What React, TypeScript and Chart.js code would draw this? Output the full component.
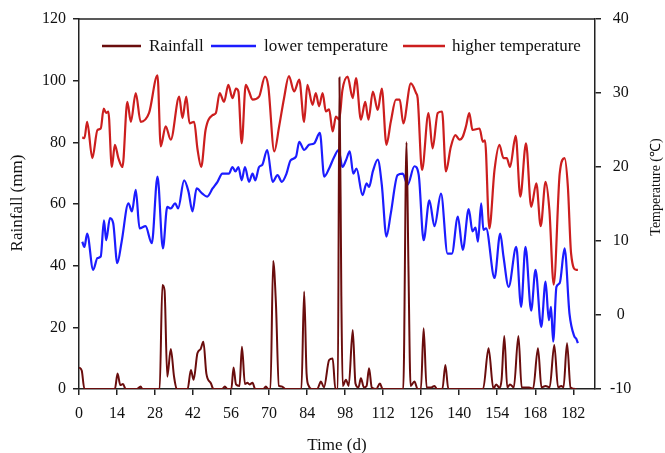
import React, { useEffect, useRef } from "react";
import { Chart, registerables } from "chart.js";

Chart.register(...registerables);

// ---- Data ----
const rainDays = [0, 1, 2, 13.2, 14.2, 15.2, 16.2, 17.2, 21.3, 22.7, 23.3, 29.7, 30.7, 31.5, 32.5, 33.8, 35, 36, 40, 41.2, 42.2, 43.6, 44.8, 45.8, 46.9, 48.6, 49.5, 52.7, 53.7, 54.7, 56.1, 56.9, 57.8, 59.1, 60, 61.1, 62, 62.8, 63.9, 64.9, 67.9, 68.8, 69.7, 70.5, 71.5, 72.5, 73.6, 74.7, 76, 81.9, 82.9, 83.8, 84.6, 85.6, 87.7, 89.1, 90.2, 92.1, 93.4, 94.4, 95.3, 95.9, 96.6, 97.1, 98.3, 99.3, 100.8, 101.8, 102.9, 103.8, 104.9, 105.9, 106.8, 107.8, 109.5, 110.8, 111.8, 119.4, 120.6, 121.3, 122.1, 123.5, 124.7, 125.9, 126.9, 128, 129.7, 130.9, 131.8, 133.8, 134.9, 136, 148.8, 150.8, 152.6, 153.6, 154.7, 155.6, 156.6, 157.7, 158.7, 160.1, 161.8, 163, 164.2, 165.7, 167.2, 169, 170.3, 171.8, 173.3, 175, 176.4, 177.6, 178.4, 179.7, 181, 183.1];
const rainValues = [7, 6, 0, 0, 5, 1.3, 1.6, 0, 0, 0.8, 0, 0, 33.7, 32, 4, 13, 4, 0, 0, 6.2, 3, 11.6, 13, 15.3, 5, 1.8, 0, 0, 0.8, 0, 0, 7, 1.5, 1, 13.7, 1.6, 2, 1.5, 2, 0, 0, 0.8, 0, 0, 41.5, 28, 1, 0.8, 0, 0, 31.6, 5, 1, 0, 0, 2.4, 0.5, 9.4, 9.9, 0, 0, 101, 30, 1, 3, 1, 19.1, 1.8, 0.5, 3.5, 0.5, 1, 6.7, 0.5, 0, 1.8, 0, 0, 80, 40, 1, 2.4, 0, 0, 19.7, 0.5, 0.5, 1, 0, 0, 7.8, 0, 0, 13.2, 0, 1.5, 0.5, 3, 17.2, 0.5, 1.5, 0.5, 17.2, 0.5, 0.5, 0.5, 0, 13.2, 0.5, 1, 0.5, 14.3, 0.5, 1, 0.5, 14.8, 0.5, 0];

const lowDays = [1.2, 2, 3, 5.2, 6.8, 8, 9.2, 10, 11.4, 12.6, 14.1, 15.7, 18.2, 19.5, 20.9, 22.3, 24.5, 26.8, 28.9, 30.9, 32.5, 33.8, 35.4, 36.5, 38.7, 40.3, 41.8, 43.3, 45.4, 47.2, 49.2, 51, 52.8, 55.2, 56.5, 57.6, 58.7, 59.9, 61.1, 62.6, 63.9, 64.9, 66.3, 67.5, 69.3, 71.3, 73.1, 74.7, 76.4, 77.9, 79.9, 81.1, 82.9, 84.7, 86.6, 88.7, 90.3, 92.1, 94, 95.6, 97, 98.3, 99.7, 101, 102.2, 104.4, 105.9, 106.8, 108.2, 110, 111.5, 113.2, 114.8, 117.3, 119.2, 121, 123.5, 125.1, 126.9, 129, 130.9, 133.3, 135.7, 137.3, 139.5, 141.3, 143.5, 144.9, 146, 146.9, 148.1, 148.9, 149.9, 153, 155.1, 156.3, 158.2, 161, 162.8, 164.4, 166.5, 168.1, 170.2, 171.8, 173, 173.8, 174.6, 175.8, 177, 178.8, 180.6, 182.4, 183.1, 183.7];
const lowTemps = [9.9, 9.2, 11, 6.1, 7.7, 7.9, 12.8, 10.1, 13.1, 12.4, 7, 9.9, 15.1, 14, 16.9, 11.7, 12, 9.7, 18.7, 9, 14.6, 14.4, 15.1, 14.4, 18.2, 16.7, 14, 17.1, 16.4, 16, 17.1, 18, 19.1, 19.1, 20, 19.4, 20, 18.2, 20, 18, 19.1, 18.2, 20, 20.3, 22.3, 18, 18.9, 18, 19.1, 20.9, 21.4, 23.4, 22.3, 23, 23.2, 24.6, 18.7, 19.8, 21.4, 22.3, 20, 20.9, 22.1, 19.1, 19.8, 16.2, 17.8, 17.3, 19.4, 21, 17.6, 10.6, 13.7, 18.9, 19.1, 17.6, 20.1, 18.9, 10.1, 15.5, 12, 16.4, 8.3, 8.3, 13.3, 8.8, 14.3, 11.3, 11.8, 9.9, 15.1, 11.5, 11.7, 5, 11, 7.9, 3.8, 9.2, 1.1, 9.2, 0.6, 6.1, -1.6, 4.5, -0.7, 1.1, -3.6, 3.8, 4.3, 9, 0.2, -2.9, -3.2, -3.8];

const highDays = [1.2, 2, 3, 4.9, 6.8, 8, 9.1, 10, 10.8, 12.1, 13.2, 14.5, 16, 17.8, 19.1, 20.9, 22.7, 25.8, 28.9, 30.1, 31.9, 33.8, 36.9, 38.1, 39.5, 40.7, 42.4, 43.6, 45, 46.6, 49.2, 50.4, 51.8, 53.4, 55, 56.5, 57.8, 58.7, 59.9, 61.4, 62.6, 63.9, 66.3, 68.5, 69.7, 71.9, 73.7, 75.5, 77.3, 79.2, 81.1, 82.9, 84.1, 86, 87.2, 88.4, 89.7, 90.9, 92.1, 93.4, 94.6, 95.8, 97, 98.9, 100.8, 102, 103.8, 105.4, 106.6, 108.2, 110, 111.5, 113.2, 114.8, 116.7, 118.1, 119.4, 122.2, 124.1, 124.7, 126.3, 128.7, 130.2, 132.1, 133.7, 135.1, 136.9, 138.6, 140.1, 141.3, 142.5, 143.7, 144.9, 147.5, 148.7, 149.5, 151.1, 153, 154.8, 156.3, 157.5, 158.7, 160.8, 162.5, 164.6, 166.5, 168.4, 170, 171.8, 173.2, 174.8, 177, 178.8, 180, 181.2, 183.1, 183.7];
const highTemps = [24, 23.9, 26.1, 21.2, 25, 25.2, 27.9, 27.3, 27.5, 20, 23, 21.2, 20, 28.8, 26.1, 30, 26.1, 27.3, 32.4, 22.8, 25.5, 23.7, 29.5, 26.6, 29.5, 25.9, 26.1, 22.5, 20, 25, 27, 27.3, 30, 28.8, 31.1, 29.3, 30.6, 30.2, 23.2, 31.1, 30.2, 29.1, 29.5, 32.2, 30.9, 22.1, 25.5, 29.3, 32.3, 30.2, 31.8, 26.1, 31.1, 28.4, 30, 28.2, 30, 27.5, 27.8, 24.8, 26.8, 26.4, 30.4, 32.2, 29.3, 32, 26.4, 28.8, 26.4, 30.2, 27.7, 30.6, 23, 26.1, 29.1, 29.1, 25.9, 31.3, 30, 29.3, 19.6, 27.3, 22.5, 27.3, 27.5, 19.4, 22.7, 24.3, 23.7, 24.1, 25.5, 27.3, 25, 25.2, 23.4, 23.6, 11.7, 19.6, 23, 21.2, 21.2, 20, 24.2, 16, 23.2, 14.6, 17.8, 12, 18, 14.2, 4.1, 19.1, 21.2, 17.4, 8.3, 6.1, 6.1];

const xTickStep = 14;
const rainTickStep = 20;
const tempTickStep = 10;

const seriesLabels = ["Rainfall", "lower temperature", "higher temperature"];
const seriesColors = ["#6a0d0d", "#1c1cff", "#cc1e1e"];

const FONT = '"Liberation Serif", "Times New Roman", Times, serif';
const AXIS = "#222";

const toPoints = (xs: number[], ys: number[]) => xs.map((x, i) => ({ x, y: ys[i] }));

const overlayPlugin = {
  id: "overlay",
  afterDraw(chart: any) {
    const { ctx, chartArea: ca } = chart;
    ctx.save();
    // top frame line
    ctx.strokeStyle = AXIS;
    ctx.lineWidth = 1.5;
    ctx.beginPath();
    ctx.moveTo(ca.left, ca.top);
    ctx.lineTo(ca.right, ca.top);
    ctx.stroke();

    // legend inside plot
    const legend = [
      { x1: 102, x2: 141, tx: 149 },
      { x1: 211, x2: 256, tx: 264 },
      { x1: 403, x2: 445, tx: 452 },
    ];
    const ly = 46;
    ctx.font = `17px ${FONT}`;
    ctx.textBaseline = "middle";
    ctx.textAlign = "left";
    legend.forEach((l, i) => {
      ctx.strokeStyle = seriesColors[i];
      ctx.lineWidth = 2.5;
      ctx.beginPath();
      ctx.moveTo(l.x1, ly);
      ctx.lineTo(l.x2, ly);
      ctx.stroke();
      ctx.fillStyle = "#111";
      ctx.fillText(seriesLabels[i], l.tx, ly + 1);
    });

    // axis titles
    ctx.fillStyle = "#111";
    ctx.textAlign = "center";
    ctx.textBaseline = "middle";
    ctx.font = `17px ${FONT}`;
    ctx.fillText("Time (d)", (ca.left + ca.right) / 2, 446);

    ctx.save();
    ctx.translate(18, 203);
    ctx.rotate(-Math.PI / 2);
    ctx.fillText("Rainfall (mm)", 0, 0);
    ctx.restore();

    ctx.save();
    ctx.translate(656, 187);
    ctx.rotate(-Math.PI / 2);
    ctx.font = `14px ${FONT}`;
    ctx.fillText("Temperature (\u2103)", 0, 0);
    ctx.restore();

    ctx.restore();
  },
};

export default function App() {
  const ref = useRef<HTMLCanvasElement | null>(null);

  useEffect(() => {
    document.body.style.margin = "0";
    const canvas = ref.current;
    if (!canvas) return;
    const tickFont = { family: FONT, size: 16 };
    const gridOpts = {
      display: true,
      drawOnChartArea: false,
      drawTicks: true,
      tickLength: 6,
      color: AXIS,
      lineWidth: 1.5,
    };
    const chart = new Chart(canvas, {
      type: "line",
      data: {
        datasets: [
          {
            label: seriesLabels[0],
            data: toPoints(rainDays, rainValues),
            borderColor: seriesColors[0],
            borderWidth: 2,
            pointRadius: 0,
            cubicInterpolationMode: "monotone",
            yAxisID: "y",
            fill: false,
          },
          {
            label: seriesLabels[1],
            data: toPoints(lowDays, lowTemps),
            borderColor: seriesColors[1],
            borderWidth: 2.2,
            pointRadius: 0,
            cubicInterpolationMode: "monotone",
            yAxisID: "y1",
            fill: false,
          },
          {
            label: seriesLabels[2],
            data: toPoints(highDays, highTemps),
            borderColor: seriesColors[2],
            borderWidth: 2.2,
            pointRadius: 0,
            cubicInterpolationMode: "monotone",
            yAxisID: "y1",
            fill: false,
          },
        ],
      },
      options: {
        animation: false,
        responsive: false,
        maintainAspectRatio: false,
        layout: { padding: { top: 19, left: 0, right: 0, bottom: 0 } },
        plugins: { legend: { display: false }, tooltip: { enabled: false } },
        scales: {
          x: {
            type: "linear",
            min: 0,
            max: 190,
            ticks: {
              stepSize: xTickStep,
              includeBounds: false,
              autoSkip: false,
              maxRotation: 0,
              font: tickFont,
              color: "#111",
              padding: 9,
            },
            grid: gridOpts,
            border: { display: true, color: AXIS, width: 1.5 },
            afterFit: (s: any) => {
              s.height = 64;
            },
          },
          y: {
            position: "left",
            min: 0,
            max: 120,
            ticks: { stepSize: rainTickStep, font: tickFont, color: "#111", padding: 7 },
            grid: gridOpts,
            border: { display: true, color: AXIS, width: 1.5 },
            afterFit: (s: any) => {
              s.width = 79;
            },
          },
          y1: {
            position: "right",
            min: -10,
            max: 40,
            ticks: {
              stepSize: tempTickStep,
              font: tickFont,
              color: "#111",
              padding: 9,
              crossAlign: "center",
            },
            grid: gridOpts,
            border: { display: true, color: AXIS, width: 1.5 },
            afterFit: (s: any) => {
              s.width = 70;
            },
          },
        },
      } as any,
      plugins: [overlayPlugin],
    });
    return () => chart.destroy();
  }, []);

  return (
    <div style={{ width: 665, height: 453 }}>
      <canvas ref={ref} width={665} height={453} style={{ display: "block" }} />
    </div>
  );
}
